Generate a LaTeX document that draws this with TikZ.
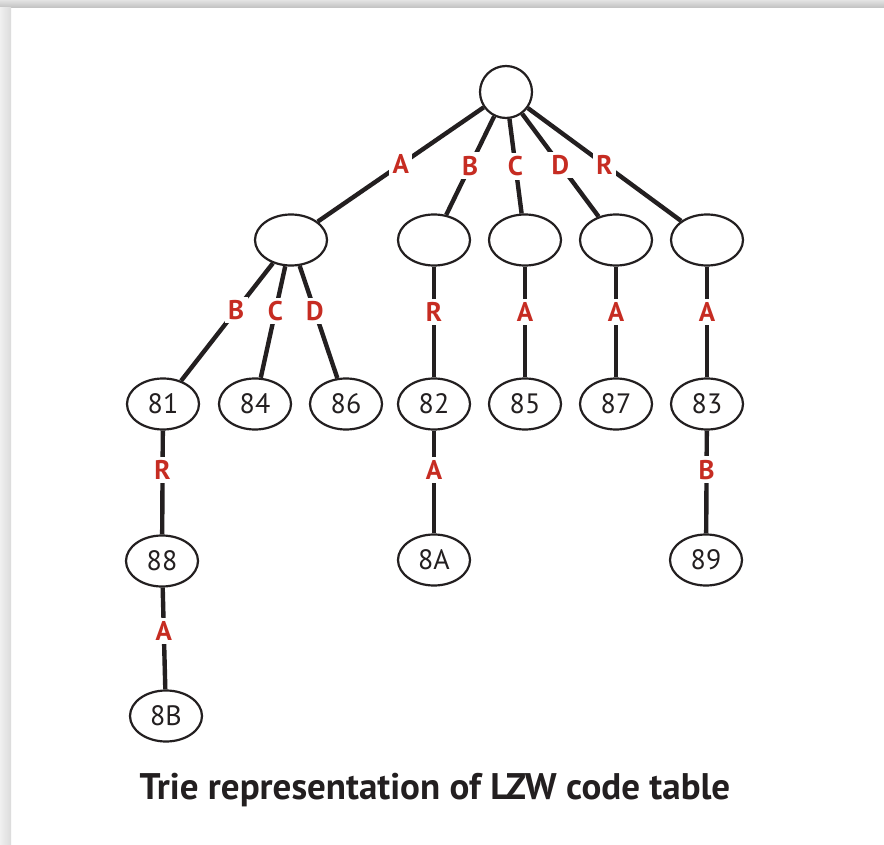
\documentclass[tikz,border=0pt]{standalone}
\usepackage{fontspec}
\setmainfont{PT Sans}
\usetikzlibrary{shapes.geometric}
\definecolor{ink}{RGB}{35,31,32}
\definecolor{labred}{RGB}{198,44,34}
\begin{document}
\begin{tikzpicture}[x=1pt,y=-1pt,
  nd/.style={ellipse, draw=ink, line width=2.2pt, minimum width=72pt, minimum height=51pt, inner sep=0pt, font=\fontsize{28}{28}\selectfont, text=ink},
  rootnd/.style={circle, draw=ink, line width=2.2pt, minimum size=52pt, inner sep=0pt},
  edge/.style={draw=ink, line width=4.4pt},
  lab/.style={fill=white, inner sep=3.5pt, text=labred, font=\fontsize{27}{27}\selectfont\bfseries},
]
\useasboundingbox (0,0) rectangle (884,845);
\fill[white] (0,0) rectangle (884,845);
\shade[top color=gray!22, bottom color=gray!50] (0,0) rectangle (884,8);
\shade[left color=gray!12, right color=gray!28] (0,8) rectangle (11,845);

\node[rootnd] (r) at (506,92) {};
\node[nd] (nA) at (291,240) {};
\node[nd] (nB) at (434,240) {};
\node[nd] (nC) at (525,240) {};
\node[nd] (nD) at (616,240) {};
\node[nd] (nR) at (707,240) {};

\node[nd] (n81) at (163,404) {81};
\node[nd] (n84) at (255,404) {84};
\node[nd] (n86) at (346,404) {86};
\node[nd] (n82) at (434,404) {82};
\node[nd] (n85) at (525,404) {85};
\node[nd] (n87) at (616,404) {87};
\node[nd] (n83) at (707,404) {83};

\node[nd] (n88) at (162,561) {88};
\node[nd] (n8A) at (434,560) {8A};
\node[nd] (n89) at (706,560) {89};
\node[nd] (n8B) at (166,716) {8B};

\draw[edge] (r) -- node[lab, pos=0.5] {A} (nA);
\draw[edge] (r) -- node[lab, pos=0.5] {B} (nB);
\draw[edge] (r) -- node[lab, pos=0.5] {C} (nC);
\draw[edge] (r) -- node[lab, pos=0.5] {D} (nD);
\draw[edge] (r) -- node[lab, pos=0.5] {R} (nR);

\draw[edge] (nA) -- node[lab, pos=0.4] {B} (n81);
\draw[edge] (nA) -- node[lab, pos=0.4] {C} (n84);
\draw[edge] (nA) -- node[lab, pos=0.4] {D} (n86);
\draw[edge] (nB) -- node[lab, pos=0.41] {R} (n82);
\draw[edge] (nC) -- node[lab, pos=0.41] {A} (n85);
\draw[edge] (nD) -- node[lab, pos=0.41] {A} (n87);
\draw[edge] (nR) -- node[lab, pos=0.41] {A} (n83);

\draw[edge] (n81) -- node[lab, pos=0.38] {R} (n88);
\draw[edge] (n82) -- node[lab, pos=0.38] {A} (n8A);
\draw[edge] (n83) -- node[lab, pos=0.38] {B} (n89);
\draw[edge] (n88) -- node[lab, pos=0.43] {A} (n8B);

\node[text=ink, font=\fontsize{37}{37}\selectfont\bfseries, inner sep=0pt] (title) at (435,790) {Trie representation of LZW code table};
\end{tikzpicture}
\end{document}
